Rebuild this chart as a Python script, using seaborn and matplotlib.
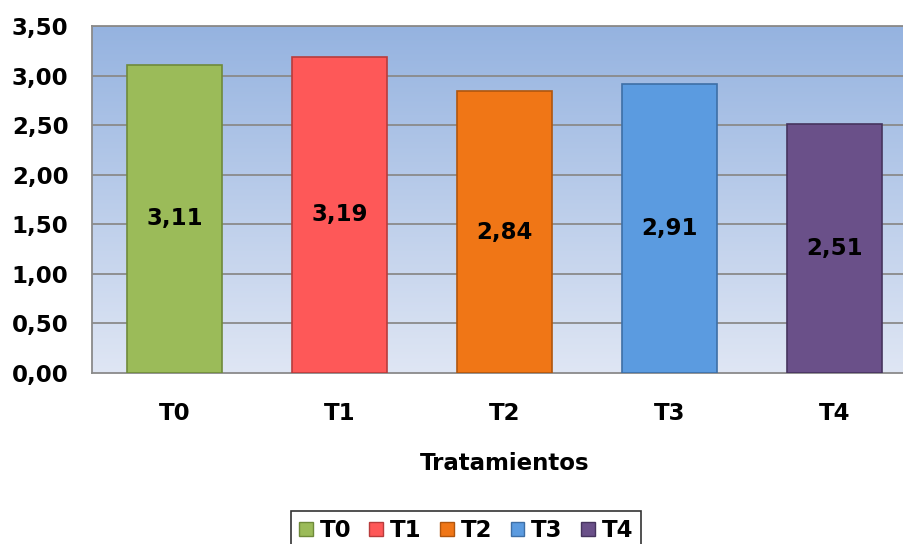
import numpy as np
import pandas as pd
import matplotlib
matplotlib.use("Agg")
import matplotlib.pyplot as plt
from matplotlib.patches import Patch
from matplotlib.colors import LinearSegmentedColormap
import seaborn as sns

categories = ["T0", "T1", "T2", "T3", "T4"]
values = [3.11, 3.19, 2.84, 2.91, 2.51]
y_ticks = [0.0, 0.5, 1.0, 1.5, 2.0, 2.5, 3.0, 3.5]
x_title = "Tratamientos"
bar_colors = ["#9bbb59", "#fe5858", "#f07616", "#5b9be0", "#6a5089"]
edge_colors = ["#6f8a3a", "#b83c3c", "#b0560e", "#3e6fa6", "#46345e"]

sns.set_theme(style="white")
plt.rcParams["font.family"] = ["DejaVu Sans"]
plt.rcParams["font.weight"] = "bold"
plt.rcParams["text.color"] = "black"
plt.rcParams["axes.labelcolor"] = "black"
plt.rcParams["xtick.color"] = "black"
plt.rcParams["ytick.color"] = "black"
FS = 16.5

W, H = 904, 544
fig = plt.figure(figsize=(W / 100, H / 100), dpi=100)
left, right, top, bottom = 92, 917, 26, 373
ax = fig.add_axes([left / W, (H - bottom) / H, (right - left) / W, (bottom - top) / H])

# gradient background
grad = np.linspace(0, 1, 256).reshape(-1, 1)
cmap = LinearSegmentedColormap.from_list("bg", ["#dfe6f4", "#95b3e0"])
ax.imshow(grad, aspect="auto", cmap=cmap, extent=[0, 1, 0, 1],
          transform=ax.transAxes, origin="lower", zorder=0)

df = pd.DataFrame({"cat": categories, "val": values})
sns.barplot(data=df, x="cat", y="val", hue="cat", palette=bar_colors,
            width=0.58, legend=False, ax=ax, zorder=3, saturation=1)
for p, ec in zip(ax.patches, edge_colors):
    p.set_edgecolor(ec)
    p.set_linewidth(1.2)

ax.set_ylim(0, 3.5)
ax.set_xlim(-0.5, 4.5)
ax.set_yticks(y_ticks)
ax.set_yticklabels([f"{v:.2f}".replace(".", ",") for v in y_ticks],
                   fontsize=FS, fontweight="bold", color="black")
ax.set_xticks(range(len(categories)))
ax.set_xticklabels(categories, fontsize=FS, fontweight="bold", color="black")
ax.tick_params(axis="y", length=0, pad=17)
ax.tick_params(axis="x", length=0, pad=21)
ax.set_xlabel(x_title, fontsize=FS, fontweight="bold", labelpad=19, color="black")
ax.set_ylabel("")

for y in y_ticks[1:]:
    ax.axhline(y, color="#8a8a8a", lw=1.3, zorder=1)
for s in ["left", "bottom", "top"]:
    ax.spines[s].set_visible(True)
    ax.spines[s].set_color("#8a8a8a")
    ax.spines[s].set_linewidth(1.3)
ax.spines["right"].set_visible(False)

for i, v in enumerate(values):
    ax.text(i, v / 2, f"{v:.2f}".replace(".", ","), ha="center", va="center",
            fontsize=FS, fontweight="bold", color="black", zorder=5)

handles = [Patch(facecolor=c, edgecolor=e, label=l)
           for c, e, l in zip(bar_colors, edge_colors, categories)]
leg = fig.legend(handles=handles, loc="upper center", ncol=5,
                 bbox_to_anchor=(466 / W, (H - 511) / H),
                 fontsize=FS, frameon=True, fancybox=False,
                 handlelength=0.6, handleheight=0.6, handletextpad=0.3,
                 columnspacing=0.8, borderpad=0.35, borderaxespad=0)
leg.get_frame().set_edgecolor("black")
leg.get_frame().set_linewidth(1.2)
for t in leg.get_texts():
    t.set_fontweight("bold")
    t.set_color("black")

fig.savefig("out.png", dpi=100)
